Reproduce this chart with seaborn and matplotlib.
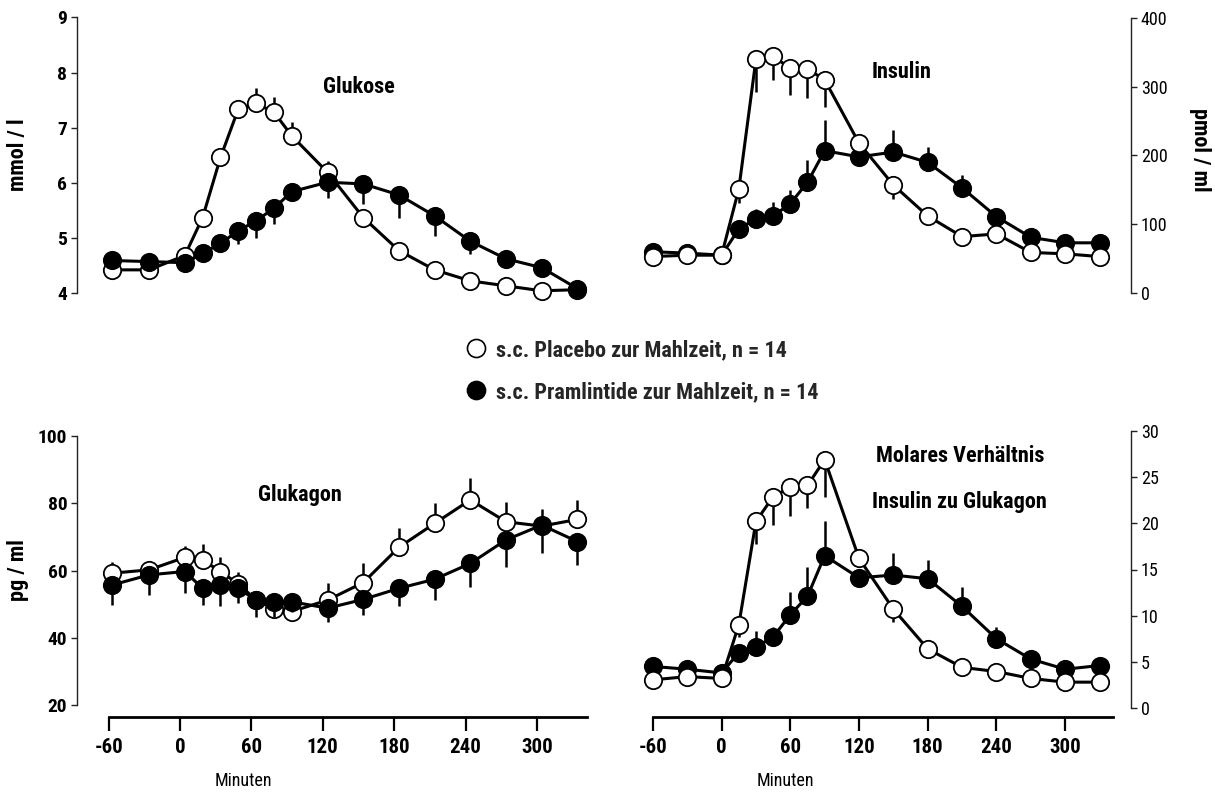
import numpy as np
import pandas as pd
import matplotlib
matplotlib.use("Agg")
import matplotlib.pyplot as plt
from matplotlib import font_manager
import seaborn as sns
from matplotlib.lines import Line2D

sns.set_theme(style="white")

# the original uses a narrow Helvetica; take a condensed face if one is installed
names = {f.name for f in font_manager.fontManager.ttflist}
narrow = [n for n in ["Liberation Sans Narrow", "Roboto Condensed", "Open Sans Condensed",
                      "Noto Sans Condensed", "DejaVu Sans Condensed"] if n in names]
plt.rcParams["font.family"] = narrow + ["Liberation Sans", "DejaVu Sans"]
stretch = "normal"
if not narrow:
    cond = [f for f in font_manager.fontManager.ttflist
            if f.name in ("Roboto", "Noto Sans", "DejaVu Sans", "Open Sans")
            and str(f.stretch) in ("condensed", "semi-condensed", "500", "600")]
    if cond:
        plt.rcParams["font.family"] = [cond[0].name, "Liberation Sans", "DejaVu Sans"]
        stretch = "condensed"
plt.rcParams["font.stretch"] = stretch

# time points (left panels are drawn a few minutes to the right in the original)
minutes = [-60, -30, 0, 15, 30, 45, 60, 75, 90, 120, 150, 180, 210, 240, 270, 300, 330]
minutes_left = [-57, -26, 4, 19, 34, 49, 64, 79, 94, 124, 154, 184, 214, 244, 274, 304, 334]

# Glukose, mmol/l
glu_placebo = [4.42, 4.42, 4.68, 5.37, 6.46, 7.34, 7.44, 7.28, 6.85, 6.19, 5.37, 4.77, 4.42, 4.22, 4.13, 4.04, 4.06]
glu_placebo_sem = [0.05, 0.03, 0.05, 0.05, 0.05, 0.16, 0.28, 0.27, 0.25, 0.2, 0.08, 0.05, 0.05, 0.03, 0.03, 0.03, 0.03]
glu_pram = [4.59, 4.57, 4.55, 4.72, 4.9, 5.13, 5.31, 5.54, 5.84, 6.01, 5.98, 5.78, 5.4, 4.94, 4.62, 4.46, 4.08]
glu_pram_sem = [0.05, 0.05, 0.05, 0.1, 0.15, 0.24, 0.31, 0.28, 0.15, 0.28, 0.37, 0.41, 0.36, 0.24, 0.1, 0.1, 0.05]

# Insulin, pmol/ml
ins_placebo = [53, 55, 55, 151, 340, 344, 327, 326, 310, 218, 157, 112, 82, 86, 59, 57, 53]
ins_placebo_sem = [3, 3, 3, 20, 47, 34, 39, 42, 39, 10, 21, 10, 5, 10, 3, 3, 3]
ins_pram = [60, 58, 55, 93, 108, 112, 130, 161, 207, 198, 205, 190, 153, 111, 81, 73, 73]
ins_pram_sem = [3, 3, 3, 3, 14, 21, 20, 33, 45, 5, 32, 23, 19, 10, 5, 3, 3]

# Glukagon, pg/ml
gcg_placebo = [59.2, 60.2, 63.9, 63.1, 59.7, 56.0, 51.2, 48.6, 47.8, 51.2, 56.4, 66.9, 74.0, 81.0, 74.5, 73.2, 75.2]
gcg_placebo_sem = [3.4, 0.9, 3.4, 4.7, 4.4, 3.7, 2.0, 1.0, 1.0, 5.2, 5.7, 5.6, 6.0, 6.4, 6.0, 5.0, 5.8]
gcg_pram = [55.7, 58.7, 59.7, 54.7, 55.7, 54.7, 51.2, 50.7, 50.7, 48.8, 51.4, 54.7, 57.4, 62.1, 69.1, 73.5, 68.6]
gcg_pram_sem = [5.9, 6.0, 6.5, 4.9, 6.4, 4.5, 4.9, 4.4, 2.9, 4.0, 4.6, 5.4, 6.2, 6.9, 8.0, 8.4, 7.0]

# Molares Verhaeltnis Insulin zu Glukagon
rat_placebo = [3.05, 3.4, 3.2, 9.0, 20.2, 22.9, 23.9, 24.1, 26.9, 16.2, 10.7, 6.4, 4.4, 3.95, 3.2, 2.8, 2.8]
rat_placebo_sem = [0.2, 0.2, 0.2, 1.3, 2.4, 3.1, 3.1, 2.4, 4.1, 0.5, 1.4, 0.2, 0.2, 0.2, 0.2, 0.2, 0.2]
rat_pram = [4.5, 4.2, 3.8, 6.0, 6.6, 7.7, 10.1, 12.1, 16.5, 14.1, 14.4, 14.0, 11.0, 7.5, 5.3, 4.2, 4.6]
rat_pram_sem = [0.2, 0.2, 0.2, 0.5, 1.7, 1.1, 2.5, 3.2, 3.8, 0.5, 2.4, 2.0, 2.1, 1.3, 0.4, 0.2, 0.2]

label_placebo = "s.c. Placebo zur Mahlzeit, n = 14"
label_pram = "s.c. Pramlintide zur Mahlzeit, n = 14"

W, H = 1215, 795
fig = plt.figure(figsize=(W / 100, H / 100), dpi=100)


def box(x0, y0, x1, y1):
    return [x0 / W, 1 - y1 / H, (x1 - x0) / W, (y1 - y0) / H]


def style_axis(ax, side, xlim, ylim, yticks, bottom_out=None, bold_y=True):
    ax.set_xlim(*xlim)
    ax.set_ylim(*ylim)
    for s in ax.spines.values():
        s.set_visible(False)
    sp = ax.spines[side]
    sp.set_visible(True)
    sp.set_linewidth(1.0)
    sp.set_color("#222222")
    sp.set_bounds(ylim[0], ylim[1])
    ax.set_yticks(yticks)
    ax.set_yticklabels([str(v) for v in yticks],
                       fontweight="bold" if bold_y else "normal",
                       fontsize=14 if bold_y else 13, color="black")
    if side == "right":
        ax.yaxis.tick_right()
    ax.tick_params(axis="y", which="both", direction="out", length=4, width=1,
                   color="#222222", pad=3,
                   left=(side == "left"), right=(side == "right"))
    if bottom_out is None:
        ax.set_xticks([])
    else:
        b = ax.spines["bottom"]
        b.set_visible(True)
        b.set_linewidth(2)
        b.set_color("black")
        b.set_position(("outward", bottom_out))
        b.set_bounds(-60, 342)
        ax.set_xticks([-60, 0, 60, 120, 180, 240, 300])
        ax.set_xticklabels(["-60", "0", "60", "120", "180", "240", "300"],
                           fontweight="bold", fontsize=15, color="black")
        ax.tick_params(axis="x", direction="out", length=10, width=1.6,
                       color="black", pad=5, bottom=True)
    ax.set_xlabel("")
    ax.set_ylabel("")
    ax.grid(False)
    ax.patch.set_alpha(0)


def draw(ax, t, mean, sem, filled, up, z):
    sem = np.asarray(sem)
    zeros = np.zeros_like(sem)
    yerr = [zeros, sem] if up else [sem, zeros]
    ax.errorbar(t, mean, yerr=yerr, fmt="none", ecolor="black", elinewidth=1.8,
                capsize=0, zorder=z, clip_on=False)
    sns.lineplot(x=t, y=mean, ax=ax, color="black", lw=2.2, marker="o",
                 markersize=12.5, markerfacecolor="black" if filled else "white",
                 markeredgecolor="black", markeredgewidth=1.3, zorder=z + 0.5,
                 clip_on=False, legend=False)


ax_glu = fig.add_axes(box(77, 17.5, 600, 293))
ax_ins = fig.add_axes(box(630, 18, 1131, 293))
ax_gcg = fig.add_axes(box(77, 436, 600, 705))
ax_rat = fig.add_axes(box(630, 431, 1131, 708))

xlim_left = (-86.6, 353)
xlim_right = (-80, 357.5)

draw(ax_glu, minutes_left, glu_placebo, glu_placebo_sem, False, True, 2)
draw(ax_glu, minutes_left, glu_pram, glu_pram_sem, True, False, 3)
draw(ax_ins, minutes, ins_pram, ins_pram_sem, True, True, 2)
draw(ax_ins, minutes, ins_placebo, ins_placebo_sem, False, False, 3)
draw(ax_gcg, minutes_left, gcg_placebo, gcg_placebo_sem, False, True, 2)
draw(ax_gcg, minutes_left, gcg_pram, gcg_pram_sem, True, False, 3)
draw(ax_rat, minutes, rat_pram, rat_pram_sem, True, True, 2)
draw(ax_rat, minutes, rat_placebo, rat_placebo_sem, False, False, 3)

style_axis(ax_glu, "left", xlim_left, (4, 9), [4, 5, 6, 7, 8, 9])
style_axis(ax_ins, "right", xlim_right, (0, 400), [0, 100, 200, 300, 400], bold_y=False)
style_axis(ax_gcg, "left", xlim_left, (20, 100), [20, 40, 60, 80, 100], bottom_out=8.6)
style_axis(ax_rat, "right", xlim_right, (0, 30), [0, 5, 10, 15, 20, 25, 30],
           bottom_out=6.5, bold_y=False)

title_kw = dict(ha="center", va="center", fontsize=16, fontweight="bold", color="black")
ax_glu.text(150, 7.73, "Glukose", **title_kw)
ax_ins.text(157, 321, "Insulin", **title_kw)
ax_gcg.text(101, 82.5, "Glukagon", **title_kw)
ax_rat.text(208, 27.3, "Molares Verhältnis", **title_kw)
ax_rat.text(208, 22.3, "Insulin zu Glukagon", **title_kw)

ylab_kw = dict(ha="center", va="center", fontsize=16, fontweight="bold", color="black")
fig.text(18 / W, 1 - 155 / H, "mmol / l", rotation=90, **ylab_kw)
fig.text(1200 / W, 1 - 150 / H, "pmol / ml", rotation=270, **ylab_kw)
fig.text(18 / W, 1 - 570 / H, "pg / ml", rotation=90, **ylab_kw)

fig.text(243 / W, 1 - 781 / H, "Minuten", ha="center", va="center", fontsize=13, color="black")
fig.text(785 / W, 1 - 781 / H, "Minuten", ha="center", va="center", fontsize=13, color="black")

handles = [
    Line2D([], [], ls="none", marker="o", markersize=13, markerfacecolor="white",
           markeredgecolor="black", markeredgewidth=1.2, label=label_placebo),
    Line2D([], [], ls="none", marker="o", markersize=13, markerfacecolor="black",
           markeredgecolor="black", markeredgewidth=1.2, label=label_pram),
]
fig.legend(handles=handles, loc="upper left", bbox_to_anchor=(452 / W, 1 - 328 / H),
           frameon=False, prop=dict(weight="bold", size=16), handletextpad=0.3,
           labelspacing=0.9, handlelength=1.2, borderpad=0)

fig.savefig("out.png", dpi=100)
